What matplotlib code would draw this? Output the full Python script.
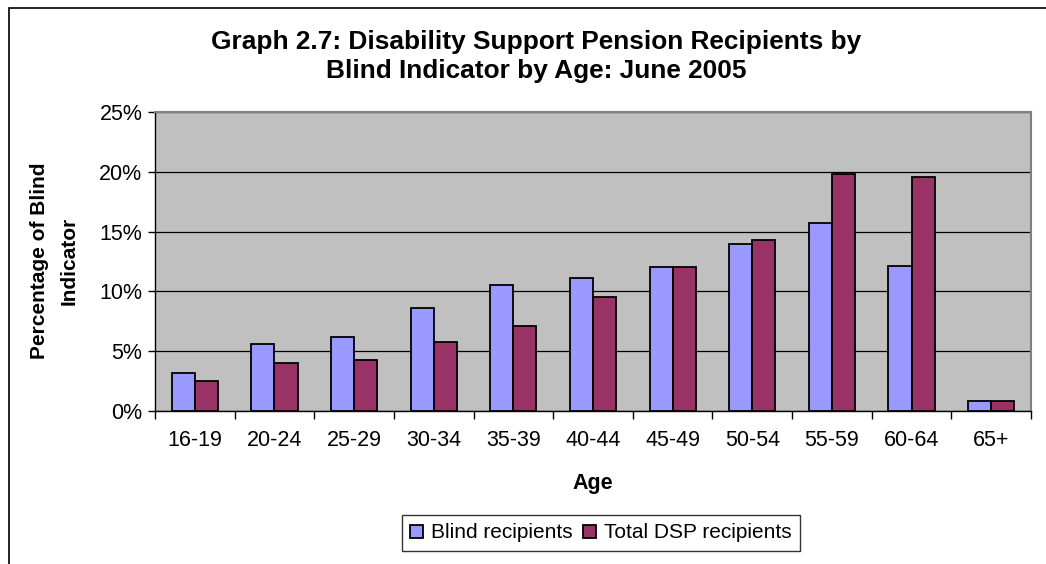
import matplotlib.pyplot as plt
import numpy as np
from matplotlib.patches import Rectangle

ages = ['16-19', '20-24', '25-29', '30-34', '35-39', '40-44',
        '45-49', '50-54', '55-59', '60-64', '65+']
blind = [3.2, 5.6, 6.2, 8.6, 10.5, 11.1, 12.0, 14.0, 15.7, 12.1, 0.8]
total_dsp = [2.5, 4.0, 4.3, 5.8, 7.1, 9.5, 12.0, 14.3, 19.8, 19.6, 0.8]

plt.rcParams['font.family'] = ['Liberation Sans', 'DejaVu Sans']

W, H = 1046, 564
fig = plt.figure(figsize=(W / 100, H / 100), dpi=100)
ax = fig.add_axes([155 / W, (H - 411) / H, 876 / W, 299 / H])

x = np.arange(len(ages))
bw = 0.29
ax.bar(x - bw / 2, blind, bw, color='#9999FF', edgecolor='black', linewidth=1.3,
       label='Blind recipients', zorder=3)
ax.bar(x + bw / 2, total_dsp, bw, color='#993366', edgecolor='black', linewidth=1.3,
       label='Total DSP recipients', zorder=3)

ax.set_facecolor('#C0C0C0')
ax.set_xlim(-0.5, len(ages) - 0.5)
ax.set_ylim(0, 25)
ax.set_yticks(np.arange(0, 26, 5))
ax.set_yticklabels([f'{v}%' for v in range(0, 26, 5)], fontsize=15.5)
ax.yaxis.grid(True, color='black', linewidth=0.9, zorder=0)
ax.set_axisbelow(True)

ax.set_xticks(x)
ax.set_xticklabels(ages, fontsize=15.5)
ax.tick_params(axis='x', length=0, pad=14)
ax.set_xticks(np.arange(-0.5, len(ages), 1), minor=True)
ax.tick_params(axis='x', which='minor', length=6, width=1, direction='out')
ax.tick_params(axis='y', length=5, width=1, direction='out', pad=4)

for s in ['top', 'right']:
    ax.spines[s].set_color('#808080')
    ax.spines[s].set_linewidth(1.5)
for s in ['left', 'bottom']:
    ax.spines[s].set_color('black')
    ax.spines[s].set_linewidth(1)

# axis titles
fig.text(593 / W, 1 - 484 / H, 'Age', ha='center', va='center',
         fontsize=15.5, fontweight='bold')
fig.text(40 / W, 1 - 261 / H, 'Percentage of Blind', rotation=90,
         ha='center', va='center', fontsize=15, fontweight='bold')
fig.text(69 / W, 1 - 261 / H, 'Indicator', rotation=90,
         ha='center', va='center', fontsize=15, fontweight='bold')

# chart title
fig.text(536 / W, 1 - 42 / H, 'Graph 2.7: Disability Support Pension Recipients by',
         ha='center', va='center', fontsize=18.9, fontweight='bold')
fig.text(536 / W, 1 - 71 / H, 'Blind Indicator by Age: June 2005',
         ha='center', va='center', fontsize=18.9, fontweight='bold')

leg = ax.legend(loc='center', bbox_to_anchor=(601 / W, 1 - 533 / H),
                bbox_transform=fig.transFigure, ncol=2, fontsize=15,
                frameon=True, fancybox=False, edgecolor='black',
                handlelength=0.6, handleheight=0.6, handletextpad=0.4,
                columnspacing=0.5, borderpad=0.4, borderaxespad=0)
leg.get_frame().set_linewidth(1)

fig.patches.append(Rectangle((9 / W, -0.1), 1.1, 1 - 8 / H + 0.1,
                             transform=fig.transFigure, fill=False,
                             edgecolor='black', linewidth=1.2))

fig.savefig('out.png', dpi=100)
